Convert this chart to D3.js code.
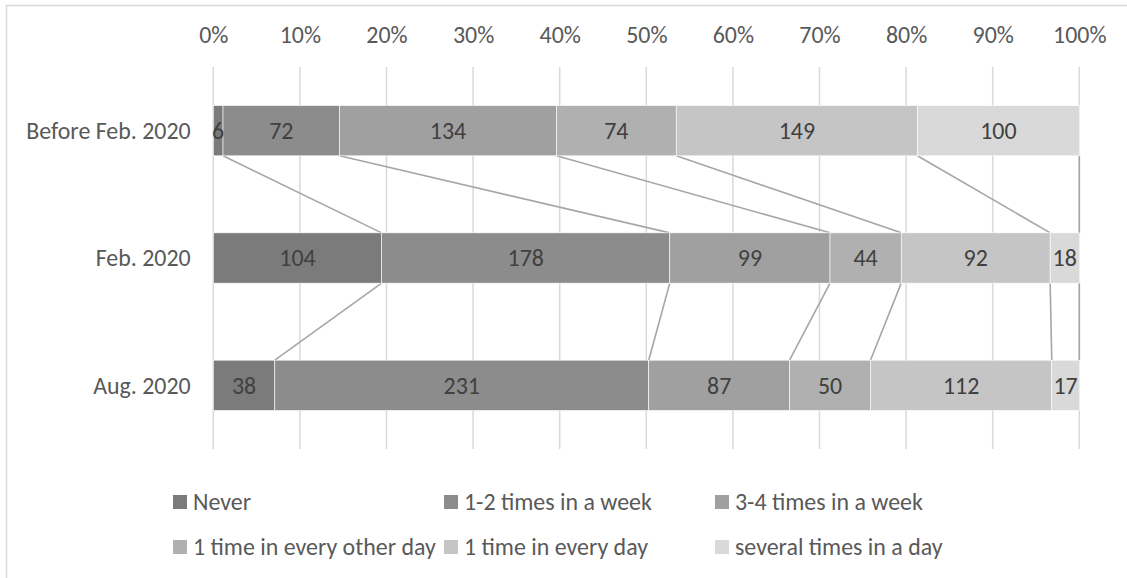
<!DOCTYPE html>
<html>
<head>
<meta charset="utf-8">
<script src="https://cdn.jsdelivr.net/npm/d3@7"></script>
<style>
  html, body { margin: 0; padding: 0; background: #fff; }
  svg { display: block; }
  text { font-family: Carlito, Calibri, Lato, "Liberation Sans", sans-serif; }
</style>
</head>
<body>
<svg id="chart" width="1127" height="578"></svg>
<script>
// ---- data ----
const categories = ["Before Feb. 2020", "Feb. 2020", "Aug. 2020"];
const seriesNames = ["Never", "1-2 times in a week", "3-4 times in a week",
                     "1 time in every other day", "1 time in every day", "several times in a day"];
const beforeFeb2020 = [6, 72, 134, 74, 149, 100];
const feb2020 = [104, 178, 99, 44, 92, 18];
const aug2020 = [38, 231, 87, 50, 112, 17];
const tickValues = [0, 0.1, 0.2, 0.3, 0.4, 0.5, 0.6, 0.7, 0.8, 0.9, 1.0];
const colors = ["#7b7b7b", "#8c8c8c", "#a0a0a0", "#b0b0b0", "#c5c5c5", "#d9d9d9"];

const rows = [beforeFeb2020, feb2020, aug2020];

const svg = d3.select("#chart");

// font size fitted so text width matches reference (Calibri-like metrics)
const probe = svg.append("text").attr("font-size", 24).text("3-4 times in a week");
const w24 = probe.node().getComputedTextLength();
probe.remove();
const FS = Math.min(24, 24 * 188 / w24);

// chart border
svg.append("rect")
  .attr("x", 6.5).attr("y", 5.5).attr("width", 1200).attr("height", 700)
  .attr("fill", "none").attr("stroke", "#d9d9d9").attr("stroke-width", 1.5);

const x = d3.scaleLinear().domain([0, 1]).range([213.3, 1079.3]);
const y = d3.scaleBand().domain(categories).range([67, 449]).paddingInner(0.605).paddingOuter(0.3025);
const color = d3.scaleOrdinal().domain(seriesNames).range(colors);

// gridlines
svg.append("g").selectAll("line").data(tickValues).join("line")
  .attr("x1", d => x(d)).attr("x2", d => x(d))
  .attr("y1", 67).attr("y2", 449)
  .attr("stroke", "#d9d9d9").attr("stroke-width", 1.5);

// top axis
const axis = svg.append("g")
  .attr("transform", "translate(0,35)")
  .call(d3.axisTop(x).tickValues(tickValues).tickFormat(d3.format(".0%")).tickSize(0).tickPadding(0));
axis.select(".domain").remove();
axis.selectAll("text")
  .attr("font-size", FS).attr("fill", "#595959")
  .style("font-family", "Carlito, Calibri, Lato, sans-serif")
  .attr("dy", "0.35em");

// stacked data
const stackData = categories.map((c, i) => {
  const vals = rows[i];
  const total = d3.sum(vals);
  let cum = 0;
  return vals.map((v, j) => {
    const seg = { cat: c, series: seriesNames[j], value: v, x0: cum / total, x1: (cum + v) / total };
    cum += v;
    return seg;
  });
});

// series lines between bars
const lineG = svg.append("g");
for (let i = 0; i < categories.length - 1; i++) {
  const a = stackData[i], b = stackData[i + 1];
  seriesNames.forEach((s, j) => {
    lineG.append("line")
      .attr("x1", x(a[j].x1)).attr("y1", y(categories[i]) + y.bandwidth())
      .attr("x2", x(b[j].x1)).attr("y2", y(categories[i + 1]))
      .attr("stroke", "#a6a6a6").attr("stroke-width", 1.6);
  });
}

// bars
const barG = svg.append("g");
stackData.forEach(row => {
  barG.selectAll(null).data(row).join("rect")
    .attr("x", d => x(d.x0)).attr("width", d => x(d.x1) - x(d.x0))
    .attr("y", d => y(d.cat)).attr("height", y.bandwidth())
    .attr("fill", d => color(d.series))
    .attr("stroke", "#ffffff").attr("stroke-width", 0.6);
  barG.selectAll(null).data(row).join("text")
    .attr("x", d => (x(d.x0) + x(d.x1)) / 2)
    .attr("y", d => y(d.cat) + y.bandwidth() / 2)
    .attr("dy", "0.35em")
    .attr("text-anchor", "middle")
    .attr("font-size", FS).attr("fill", "#404040")
    .text(d => d.value);
});

// category labels
svg.append("g").selectAll("text").data(categories).join("text")
  .attr("x", 190.7).attr("y", d => y(d) + y.bandwidth() / 2)
  .attr("dy", "0.35em").attr("text-anchor", "end")
  .attr("font-size", FS).attr("fill", "#595959")
  .text(d => d);

// legend
const legend = svg.append("g");
const leg = legend.selectAll("g").data(seriesNames).join("g")
  .attr("transform", (d, i) => `translate(${173 + (i % 3) * 271},${502 + Math.floor(i / 3) * 45})`);
leg.append("rect").attr("x", 0).attr("y", -7).attr("width", 14).attr("height", 14)
  .attr("fill", d => color(d));
leg.append("text").attr("x", 20).attr("y", 0).attr("dy", "0.35em")
  .attr("font-size", FS).attr("fill", "#595959").text(d => d);
</script>
</body>
</html>
